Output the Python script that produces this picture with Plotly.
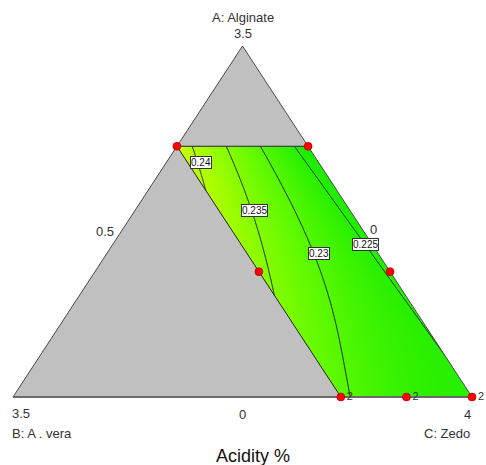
import numpy as np
import plotly.graph_objects as go

# ---------------- data ----------------
# mixture: A + B + C = 4, lower bounds A>=0, B>=0, C>=0.5
comp_names = ["A: Alginate", "B: A . vera", "C: Zedo"]
vertex_labels = ["3.5", "3.5", "4"]        # apex (A), left (B), right (C)
side_labels = ["0.5", "0", "0"]            # left side (C min), right side (B min), bottom (A min)
total = 4.0
lower = [0.0, 0.0, 0.5]
upper_A = 2.5
upper_B = 1.0

# design points (real units)
design_A = [2.5, 2.5, 1.25, 1.25, 0.0, 0.0, 0.0]
design_B = [1.0, 0.0, 1.0, 0.0, 1.0, 0.5, 0.0]
design_C = [0.5, 1.5, 1.75, 2.75, 3.0, 3.5, 4.0]
replicates = [1, 1, 1, 1, 2, 2, 2]

# contour levels and label locations (real units A, B)
levels = [0.225, 0.23, 0.235, 0.24]
label_text = ["0.225", "0.23", "0.235", "0.24"]
label_A = [1.516, 1.426, 1.860, 2.338]
label_B = [0.054, 0.456, 0.725, 0.901]

# response surface estimated from the plotted contours (L-pseudo a, b)
fit_base = 0.225
fit_shift = [0.05, 0.12]
fit_lin = [0.0, 0.08, 0.02]
fit_quad = [0.068, -0.095]

title = "Acidity %"

# ---------------- helpers ----------------
rng = total - sum(lower)


def to_xy(A, B, C):
    a = (np.asarray(A, float) - lower[0]) / rng
    c = (np.asarray(C, float) - lower[2]) / rng
    return c + a / 2.0, a


def response(a, b):
    u = b - fit_shift[0] * (a - fit_shift[1])
    P = fit_lin[0] + fit_lin[1] * a + fit_lin[2] * a * a
    R = fit_quad[0] + fit_quad[1] * a
    return fit_base + P * u + R * u * u


aH = (upper_A - lower[0]) / rng

# corners of the feasible region
reg_A = [upper_A, upper_A, lower[0], lower[0]]
reg_B = [upper_B, lower[1], lower[1], upper_B]
reg_C = [total - x - y for x, y in zip(reg_A, reg_B)]
rx, ry = to_xy(reg_A, reg_B, reg_C)

# triangle vertices
tri_A = [total - lower[1] - lower[2], lower[0], lower[0]]
tri_B = [lower[1], total - lower[0] - lower[2], lower[1]]
tri_C = [lower[2], lower[2], total - lower[0] - lower[1]]
tx, ty = to_xy(tri_A, tri_B, tri_C)   # apex, left, right

# grid
Xg = np.linspace(min(rx) - 0.005, tx[2], 420)
Yg = np.linspace(0, aH, 320)
XX, YY = np.meshgrid(Xg, Yg)
aa = YY
cc = XX - YY / 2
bb = 1 - aa - cc
Z = response(aa, bb)

fig = go.Figure()

fig.add_trace(go.Contour(
    x=Xg, y=Yg, z=Z,
    contours=dict(start=levels[0], end=levels[-1], size=levels[1] - levels[0],
                  coloring="heatmap", showlabels=False),
    line=dict(color="#1a1a1a", width=1, smoothing=1),
    colorscale=[[0, "rgb(18,236,0)"], [0.45, "rgb(100,250,0)"], [1, "rgb(205,255,0)"]],
    zmin=0.2228, zmax=0.2425, showscale=False, hoverinfo="skip",
))

# gray part of the triangle (outside the feasible region)
gx = [tx[1], rx[3], rx[0], rx[1], tx[0], tx[1]]
gy = [ty[1], ry[3], ry[0], ry[1], ty[0], ty[1]]
fig.add_trace(go.Scatter(x=gx, y=gy, mode="lines", fill="toself",
                         fillcolor="#c0c0c0", line=dict(width=0), hoverinfo="skip"))

# white mask outside right edge / below base
wx = [tx[2], tx[0], 1.2, 1.2, 0.3, 0.3, tx[2]]
wy = [ty[2], ty[0], ty[0], -0.1, -0.1, 0, ty[2]]
fig.add_trace(go.Scatter(x=wx, y=wy, mode="lines", fill="toself",
                         fillcolor="white", line=dict(width=0), hoverinfo="skip"))

# triangle outline
fig.add_trace(go.Scatter(x=[tx[1], tx[0], tx[2]], y=[ty[1], ty[0], ty[2]], mode="lines",
                         line=dict(color="#4a4a4a", width=1), hoverinfo="skip"))
fig.add_trace(go.Scatter(x=[tx[1], tx[2]], y=[ty[1], ty[2]], mode="lines",
                         line=dict(color="#6a6a6a", width=2), hoverinfo="skip"))

# region boundary (top and left)
fig.add_trace(go.Scatter(x=[rx[1], rx[0], rx[3]], y=[ry[1], ry[0], ry[3]], mode="lines",
                         line=dict(color="#222222", width=1), hoverinfo="skip"))

# design points
dx, dy = to_xy(design_A, design_B, design_C)
fig.add_trace(go.Scatter(
    x=dx, y=dy, mode="markers+text",
    marker=dict(symbol="circle", size=8, color="#ff0000", line=dict(color="#a00000", width=0.6)),
    text=[str(r) if r > 1 else "" for r in replicates],
    textposition="middle right",
    textfont=dict(family="Liberation Sans, Arial", size=11, color="#333333"),
    hoverinfo="skip"))

ann = []
font_lbl = dict(family="Liberation Sans, Arial", size=13, color="#333333")
# contour labels
lx, ly = to_xy(label_A, label_B, [total - p - q for p, q in zip(label_A, label_B)])
for x, y, t in zip(lx, ly, label_text):
    ann.append(dict(x=x, y=y, text=t, showarrow=False, bgcolor="white",
                    bordercolor="#333333", borderwidth=1, borderpad=0,
                    font=dict(family="Liberation Sans, Arial", size=10, color="#111111")))

# vertex labels
ann.append(dict(x=tx[0], y=ty[0], text=vertex_labels[0], showarrow=False, yshift=13, font=font_lbl))
ann.append(dict(x=tx[0], y=ty[0], text=comp_names[0], showarrow=False, yshift=29, font=font_lbl))
ann.append(dict(x=tx[1], y=ty[1], text=vertex_labels[1], showarrow=False, xanchor="left",
                xshift=-3, yshift=-16, font=font_lbl))
ann.append(dict(x=tx[1], y=ty[1], text=comp_names[1], showarrow=False, xanchor="left",
                xshift=-3, yshift=-36, font=font_lbl))
ann.append(dict(x=tx[2], y=ty[2], text=vertex_labels[2], showarrow=False,
                xshift=-5, yshift=-17, font=font_lbl))
ann.append(dict(x=tx[2], y=ty[2], text=comp_names[2], showarrow=False, xanchor="right",
                xshift=0, yshift=-36, font=font_lbl))
# side labels
ann.append(dict(x=(tx[0] + tx[1]) / 2, y=(ty[0] + ty[1]) / 2, text=side_labels[0], showarrow=False,
                xshift=-23, yshift=-10, font=font_lbl))
ann.append(dict(x=(tx[0] + tx[2]) / 2, y=(ty[0] + ty[2]) / 2, text=side_labels[1], showarrow=False,
                xshift=16, yshift=-8, font=font_lbl))
ann.append(dict(x=(tx[1] + tx[2]) / 2, y=ty[1], text=side_labels[2], showarrow=False,
                yshift=-17, font=font_lbl))
# title at bottom
ann.append(dict(x=(tx[1] + tx[2]) / 2, y=ty[1], text=title, showarrow=False, xshift=10,
                yshift=-59, font=dict(family="Liberation Sans, Arial", size=18, color="#111111")))

fig.update_layout(
    width=486, height=465, margin=dict(l=0, r=0, t=0, b=0),
    paper_bgcolor="white", plot_bgcolor="white", showlegend=False,
    xaxis=dict(range=[-0.02832, 1.03050], visible=False, fixedrange=True),
    yaxis=dict(range=[-0.19373, 1.13105], visible=False, fixedrange=True),
    annotations=ann,
)

fig.write_html("out.html")
